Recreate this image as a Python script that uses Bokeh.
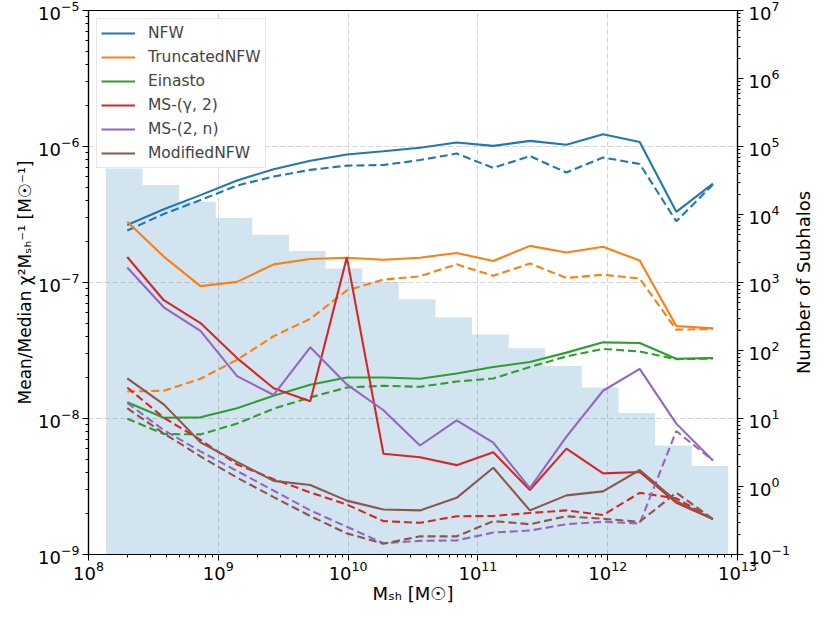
import math
from bokeh.plotting import figure
from bokeh.layouts import row
from bokeh.models import Range1d, LogAxis, LogScale, Legend, LegendItem, LogTicker
from bokeh.core.properties import value
from bokeh.embed import file_html
from bokeh.resources import INLINE

# ---------------- data ----------------
bin_edges = [1.365e8, 2.61e8, 5.00e8, 9.57e8, 1.83e9, 3.51e9, 6.71e9, 1.285e10,
             2.46e10, 4.71e10, 9.02e10, 1.726e11, 3.30e11, 6.32e11, 1.211e12,
             2.317e12, 4.44e12, 8.49e12]
subhalo_counts = [47300, 27200, 15400, 8890, 5050, 2900, 1610, 1010, 569, 309,
                  172, 108, 59, 28.5, 12, 4, 2]
mass_centers = [1.989e8, 3.80e8, 7.29e8, 1.394e9, 2.67e9, 5.11e9, 9.78e9,
                1.872e10, 3.58e10, 6.86e10, 1.314e11, 2.515e11, 4.81e11,
                9.21e11, 1.764e12, 3.376e12, 6.47e12]

nfw_mean = [2.65e-7, 3.46e-7, 4.39e-7, 5.63e-7, 6.8e-7, 7.86e-7, 8.73e-7, 9.23e-7,
            9.8e-7, 1.07e-6, 1.01e-6, 1.10e-6, 1.03e-6, 1.23e-6, 1.08e-6, 3.31e-7, 5.33e-7]
nfw_median = [2.41e-7, 3.19e-7, 4.04e-7, 5.16e-7, 6.02e-7, 6.73e-7, 7.23e-7, 7.31e-7,
              7.95e-7, 8.87e-7, 6.96e-7, 8.5e-7, 6.44e-7, 8.3e-7, 7.44e-7, 2.82e-7, 5.25e-7]
tnfw_mean = [2.80e-7, 1.55e-7, 9.4e-8, 1.01e-7, 1.36e-7, 1.49e-7, 1.52e-7, 1.47e-7,
             1.52e-7, 1.65e-7, 1.44e-7, 1.86e-7, 1.66e-7, 1.83e-7, 1.45e-7, 4.79e-8, 4.6e-8]
tnfw_median = [1.58e-8, 1.60e-8, 1.96e-8, 2.70e-8, 4.03e-8, 5.41e-8, 8.75e-8, 1.05e-7,
               1.11e-7, 1.36e-7, 1.12e-7, 1.38e-7, 1.08e-7, 1.14e-7, 1.07e-7, 4.5e-8, 4.55e-8]
einasto_mean = [1.315e-8, 1.014e-8, 1.02e-8, 1.19e-8, 1.47e-8, 1.77e-8, 2.00e-8, 2.0e-8,
                1.96e-8, 2.14e-8, 2.39e-8, 2.60e-8, 3.05e-8, 3.63e-8, 3.59e-8, 2.75e-8, 2.78e-8]
einasto_median = [9.97e-9, 7.69e-9, 7.64e-9, 9.17e-9, 1.18e-8, 1.43e-8, 1.69e-8, 1.74e-8,
                  1.71e-8, 1.87e-8, 1.97e-8, 2.39e-8, 2.86e-8, 3.25e-8, 3.11e-8, 2.73e-8, 2.76e-8]
msg2_mean = [1.54e-7, 7.41e-8, 5.03e-8, 2.78e-8, 1.67e-8, 1.34e-8, 1.53e-7, 5.50e-9,
             5.19e-9, 4.54e-9, 5.64e-9, 2.98e-9, 6.0e-9, 3.95e-9, 4.04e-9, 2.40e-9, 1.82e-9]
msg2_median = [1.69e-8, 1.014e-8, 6.96e-9, 4.59e-9, 3.58e-9, 2.86e-9, 2.33e-9, 1.76e-9,
               1.71e-9, 1.91e-9, 1.92e-9, 2.02e-9, 2.11e-9, 1.95e-9, 2.84e-9, 2.59e-9, 1.82e-9]
ms2n_mean = [1.29e-7, 6.57e-8, 4.41e-8, 2.05e-8, 1.49e-8, 3.34e-8, 1.78e-8, 1.15e-8,
             6.33e-9, 9.70e-9, 6.65e-9, 3.08e-9, 7.35e-9, 1.60e-8, 2.32e-8, 9.17e-9, 4.91e-9]
ms2n_median = [1.30e-8, 8.22e-9, 5.73e-9, 4.11e-9, 2.95e-9, 2.11e-9, 1.60e-9, 1.21e-9,
               1.26e-9, 1.27e-9, 1.45e-9, 1.50e-9, 1.67e-9, 1.74e-9, 1.69e-9, 8.09e-9, 4.91e-9]
mnfw_mean = [1.97e-8, 1.27e-8, 6.68e-9, 4.80e-9, 3.48e-9, 3.24e-9, 2.49e-9, 2.14e-9,
             2.11e-9, 2.61e-9, 4.34e-9, 2.11e-9, 2.72e-9, 2.91e-9, 4.18e-9, 2.47e-9, 1.82e-9]
mnfw_median = [1.19e-8, 7.76e-9, 5.27e-9, 3.67e-9, 2.64e-9, 1.92e-9, 1.43e-9, 1.20e-9,
               1.36e-9, 1.36e-9, 1.76e-9, 1.67e-9, 1.91e-9, 1.83e-9, 1.74e-9, 2.85e-9, 1.82e-9]

series_names = ["NFW", "TruncatedNFW", "Einasto", "MS-(γ, 2)", "MS-(2, n)", "ModifiedNFW"]
series_colors = ["#1f77b4", "#ff7f0e", "#2ca02c", "#d62728", "#9467bd", "#8c564b"]
series_mean = [nfw_mean, tnfw_mean, einasto_mean, msg2_mean, ms2n_mean, mnfw_mean]
series_median = [nfw_median, tnfw_median, einasto_median, msg2_median, ms2n_median, mnfw_median]

x_label = "Mₛₕ [M☉]"
y_label_left = "Mean/Median χ²Mₛₕ⁻¹ [M☉⁻¹]"
y_label_right = "Number of Subhalos"

X_LO, X_HI = 1e8, 1e13
Y_LO, Y_HI = 1e-9, 1e-5
N_LO, N_HI = 0.1, 1e7

FONT = "DejaVu Sans"
TICK_FS = "18px"
LABEL_FS = "18px"
H = 607
TOP, BOTTOM = 10, 50

p = figure(width=792, height=H, x_axis_type="log", y_axis_type="log",
           x_range=Range1d(X_LO, X_HI), y_range=Range1d(Y_LO, Y_HI),
           output_backend="svg", toolbar_location=None,
           min_border_left=88, min_border_right=50, min_border_top=TOP, min_border_bottom=BOTTOM)
p.background_fill_color = "white"
p.border_fill_color = "white"
p.outline_line_color = "black"
p.outline_line_width = 1.2
p.outline_line_alpha = 1.0

p.extra_y_ranges = {"hist": Range1d(N_LO, N_HI)}
p.extra_y_scales = {"hist": LogScale()}

# histogram of subhalo counts (right axis)
p.quad(left=bin_edges[:-1], right=bin_edges[1:], bottom=[N_LO] * len(subhalo_counts),
       top=subhalo_counts, y_range_name="hist",
       fill_color="#1f77b4", fill_alpha=0.2, line_color=None)

items = []
for name, col, mean, med in zip(series_names, series_colors, series_mean, series_median):
    r = p.line(mass_centers, mean, line_color=col, line_width=2.1)
    p.line(mass_centers, med, line_color=col, line_width=2.1, line_dash="8 4")
    items.append(LegendItem(label=name, renderers=[r]))

right_axis = LogAxis(y_range_name="hist", ticker=LogTicker(num_minor_ticks=10))
p.add_layout(right_axis, "right")

p.xaxis.ticker = LogTicker(num_minor_ticks=10)
p.yaxis.ticker = LogTicker(num_minor_ticks=10)

for ax in p.axis:
    ax.major_label_text_font = FONT
    ax.major_label_text_font_size = TICK_FS
    ax.major_label_text_color = "black"
    ax.axis_label_text_font = FONT
    ax.axis_label_text_font_style = "normal"
    ax.axis_label_text_color = "black"
    ax.axis_line_color = "black"
    ax.axis_line_width = 1.2
    ax.major_tick_line_color = "black"
    ax.minor_tick_line_color = "black"
    ax.major_tick_in = 0
    ax.major_tick_out = 6
    ax.minor_tick_in = 0
    ax.minor_tick_out = 3

p.xaxis.axis_label = x_label
p.xaxis.axis_label_text_font_size = LABEL_FS
p.xaxis.major_label_standoff = 0
p.xaxis.axis_label_standoff = 0

p.yaxis[0].axis_label = y_label_left
p.yaxis[0].axis_label_text_font_size = "17px"
p.yaxis[0].major_label_standoff = 3
p.yaxis[0].axis_label_standoff = 0

right_axis.major_label_standoff = 5

for g in (p.xgrid[0], p.ygrid[0]):
    g.grid_line_color = "#b0b0b0"
    g.grid_line_alpha = 0.55
    g.grid_line_dash = "5 3"
    g.grid_line_width = 1

legend = Legend(items=items, location="top_left", margin=8, padding=4, spacing=4,
                label_text_font=FONT, label_text_font_size="15.5px",
                label_height=20, glyph_height=20, glyph_width=34, label_standoff=13,
                border_line_color="#cccccc", border_line_width=1,
                background_fill_color="white", background_fill_alpha=0.8)
p.add_layout(legend)

# narrow companion figure carrying the right-hand axis title (reads bottom-to-top)
p2 = figure(width=22, height=H, x_range=Range1d(0, 1), y_range=Range1d(0, 1),
            output_backend="svg", toolbar_location=None,
            x_axis_location=None, y_axis_location=None,
            min_border_left=0, min_border_right=0, min_border_top=TOP, min_border_bottom=BOTTOM + 3)
p2.outline_line_color = None
p2.grid.visible = False
p2.background_fill_color = "white"
p2.border_fill_color = "white"
p2.text(x=[0.5], y=[0.5], text=[y_label_right], angle=math.pi / 2,
        text_align="center", text_baseline="middle",
        text_font=value(FONT), text_font_size=value(LABEL_FS), text_color="black")

layout = row(p, p2)
open("out.html", "w").write(file_html(layout, INLINE))
